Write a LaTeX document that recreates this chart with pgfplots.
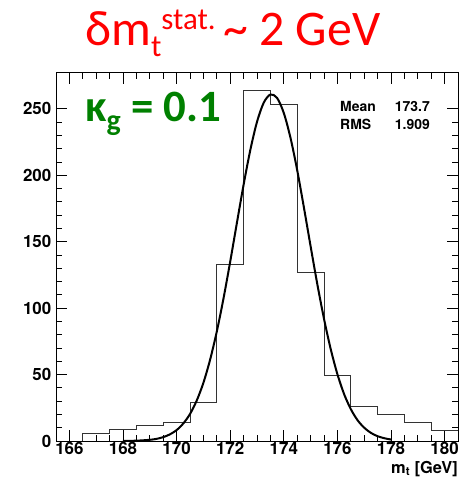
\documentclass[border=0pt]{standalone}
\usepackage{pgfplots}
\pgfplotsset{compat=1.18}
\usepackage{fontspec}
\setmainfont{TeX Gyre Heros}
\newfontfamily\calibri{Carlito}
\definecolor{kgreen}{RGB}{0,128,0}
\definecolor{titlered}{RGB}{255,0,0}

\begin{document}
\begin{tikzpicture}
\useasboundingbox (0,0) rectangle (460bp,478bp);
\begin{axis}[
  at={(56bp,37bp)}, anchor=south west,
  scale only axis, width=402bp, height=368bp,
  xmin=165.5, xmax=180.5, ymin=0, ymax=277,
  xtick={166,168,...,180}, minor x tick num=3,
  ytick={0,50,...,250}, minor y tick num=4,
  tick align=inside,
  major tick length=11bp, minor tick length=6bp,
  every tick/.style={black, line width=0.8bp},
  axis line style={line width=1bp},
  /pgf/number format/assume math mode=true,
  ticklabel style={font=\bfseries\fontsize{17}{17}\selectfont},
  xticklabel style={inner sep=0pt, yshift=-1.5bp},
  yticklabel style={inner sep=0pt, xshift=-4.5bp},
  xlabel={\bfseries\fontsize{16.5}{17}\selectfont m\textsubscript{t} [GeV]},
  xlabel style={at={(axis description cs:1,0)}, anchor=base east, yshift=-32bp, inner sep=0pt},
]
\addplot[const plot mark left, black!80, line width=1bp] coordinates {
  (166.5,0) (166.5,6) (167.5,9) (168.5,12) (169.5,14) (170.5,29) (171.5,133)
  (172.5,264) (173.5,253) (174.5,127) (175.5,49) (176.5,26) (177.5,20)
  (178.5,14) (179.5,8) (180.5,8)
};
\addplot[smooth, black, line width=2bp] coordinates {
  (168,0.06) (168.5,0.24) (169,0.89) (169.25,1.6) (169.5,2.9) (169.75,5.0)
  (170,8.2) (170.25,13.2) (170.5,20.3) (170.75,30.4) (171,43.8) (171.25,61.2)
  (171.5,82.4) (171.75,107.3) (172,135.0) (172.25,164.2) (172.5,192.9)
  (172.75,219.0) (173,240.2) (173.25,254.6) (173.5,260.8) (173.75,258.2)
  (174,246.9) (174.25,228.2) (174.5,203.8) (174.75,175.8) (175,146.6)
  (175.25,118.1) (175.5,92.0) (175.75,69.2) (176,50.3) (176.25,35.3)
  (176.5,24.0) (176.75,15.7) (177,10.0) (177.25,6.1) (177.5,3.6)
  (177.75,2.1) (178,1.1)
};
\end{axis}
% statistics box text
\node[anchor=base west, inner sep=0pt, font=\bfseries\fontsize{14}{14}\selectfont] at (340bp,366.3bp) {Mean};
\node[anchor=base east, inner sep=0pt, font=\bfseries\fontsize{14}{14}\selectfont] at (430bp,366.3bp) {173.7};
\node[anchor=base west, inner sep=0pt, font=\bfseries\fontsize{14}{14}\selectfont] at (340bp,348bp) {RMS};
\node[anchor=base east, inner sep=0pt, font=\bfseries\fontsize{14}{14}\selectfont] at (430bp,348bp) {1.909};
% kappa label
\node[anchor=base west, inner sep=0pt, text=kgreen] at (85bp,356.3bp)
  {\calibri\bfseries\fontsize{45}{50}\selectfont κ\raisebox{-9bp}{\fontsize{30}{30}\selectfont g} = 0.1};
% title
\node[anchor=base west, inner sep=0pt, text=titlered] at (85bp,432.3bp)
  {\calibri\fontsize{50}{60}\selectfont δm\raisebox{-11bp}{\fontsize{31}{31}\selectfont t}\raisebox{16bp}{\fontsize{31}{31}\selectfont stat.}\hspace{0.15em}\textasciitilde{} 2 GeV};
\end{tikzpicture}
\end{document}
